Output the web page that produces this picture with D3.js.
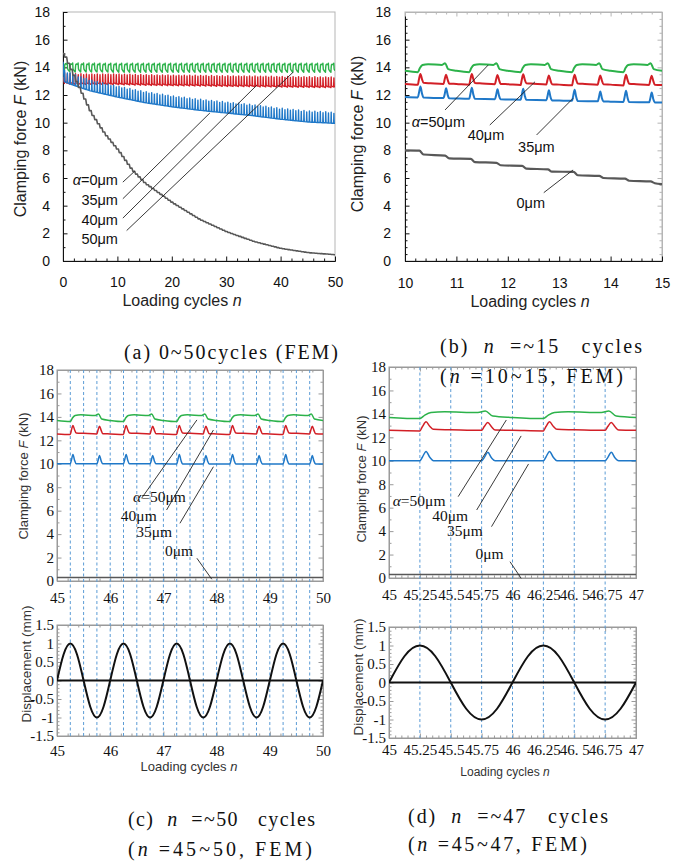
<!DOCTYPE html>
<html>
<head>
<meta charset="utf-8">
<script src="https://cdn.jsdelivr.net/npm/d3@7"></script>
<style>
body { margin: 0; background: #fff; }
svg { display: block; }
text { white-space: pre; }
</style>
</head>
<body>
<svg id="fig" width="683" height="862"></svg>
<script>
// ---- one loading cycle: phase in cycle, offset from baseline (kN)
var phaseGreen = [0, 0.25, 0.29, 0.34, 0.45, 0.72, 0.78, 0.84, 1];
var offGreen   = [0, -0.1, 0.2, 0.42, 0.48, 0.42, 0.55, 0.12, 0];
var phaseRed = [0, 0.25, 0.27, 0.3, 0.33, 0.36, 0.5, 0.75, 0.77, 0.8, 0.83, 0.86, 1];
var offRed   = [0, -0.05, 0.3, 0.72, 0.35, 0.08, 0.05, 0, 0.3, 0.66, 0.3, 0.02, 0];
var phaseBlue = [0, 0.25, 0.27, 0.3, 0.33, 0.36, 0.75, 0.77, 0.8, 0.83, 0.86, 1];
var offBlue   = [0, 0, 0.3, 0.8, 0.3, 0, 0, 0.25, 0.72, 0.25, 0, 0];
var grayStepPhase = [0.3, 0.8];
// displacement over one cycle (mm)
var phaseDisp = [0, 0.125, 0.25, 0.375, 0.5, 0.625, 0.75, 0.875, 1];
var dispVal   = [0, 0.71, 1, 0.71, 0, -0.71, -1, -0.71, 0];

// ---- (a) 0~50 cycles, baselines
var baseN_A    = [0, 1, 2, 5, 10, 15, 20, 25, 30, 35, 40, 45, 50];
var blueBaseA  = [13.0, 12.85, 12.7, 12.3, 11.85, 11.45, 11.15, 10.9, 10.7, 10.5, 10.25, 10.05, 9.95];
var redBaseA   = [12.9, 12.85, 12.82, 12.8, 12.8, 12.75, 12.72, 12.7, 12.67, 12.65, 12.62, 12.6, 12.58];
var greenBaseA = [13.8, 13.78, 13.77, 13.76, 13.75, 13.75, 13.75, 13.75, 13.75, 13.75, 13.75, 13.75, 13.75];
var startA     = { blue: 14.4, red: 13.3, green: 13.8 };
var grayN_A = [0, 2.5, 5, 7.5, 10, 12.5, 15, 20, 25, 30, 35, 40, 45, 50];
var grayA   = [15.0, 12.8, 10.7, 9.2, 8.0, 6.6, 5.6, 4.2, 3.0, 2.1, 1.4, 0.9, 0.6, 0.45];

// ---- (b) 10~15 cycles
var baseN_B    = [10, 11, 12, 13, 14, 15];
var blueBaseB  = [11.85, 11.75, 11.68, 11.6, 11.52, 11.45];
var redBaseB   = [12.8, 12.8, 12.78, 12.75, 12.75, 12.72];
var greenBaseB = [13.75, 13.75, 13.75, 13.75, 13.75, 13.75];
var grayN_B = [10, 10.28, 10.36, 10.78, 10.86, 11.28, 11.36, 11.78, 11.86, 12.28, 12.36, 12.78, 12.86,
               13.28, 13.36, 13.78, 13.86, 14.28, 14.36, 14.78, 14.86, 15];
var grayB   = [8.0, 7.98, 7.7, 7.62, 7.42, 7.38, 7.15, 7.1, 6.92, 6.88, 6.68, 6.62, 6.46,
               6.44, 6.2, 6.15, 6.0, 5.95, 5.8, 5.75, 5.62, 5.55];

// ---- (c) 45~50 cycles
var baseN_C    = [45, 50];
var blueBaseC  = [10.0, 9.98];
var redBaseC   = [12.55, 12.55];
var greenBaseC = [13.7, 13.7];
var grayC      = [0.3, 0.3];
var dashC = [45.25, 45.5, 45.75, 46, 46.25, 46.5, 46.75, 47, 47.25, 47.5, 47.75, 48, 48.25, 48.5, 48.75, 49, 49.25, 49.5, 49.75];
var ticksC = [45, 46, 47, 48, 49, 50];

// ---- (d) 45~47 cycles
var baseN_D    = [45, 47];
var blueBaseD  = [10.0, 10.0];
var redBaseD   = [12.6, 12.6];
var greenBaseD = [13.7, 13.7];
var grayD      = [0.3, 0.3];
var dashD = [45.25, 45.5, 45.75, 46, 46.25, 46.5, 46.75];
var ticksD = [45, 45.25, 45.5, 45.75, 46, 46.25, 46.5, 46.75, 47];
var tickLabelsD = ["45", "45.25", "45.5", "45.75", "46", "46.25", "46. 5", "46.75", "47"];

var ticksA = [0, 10, 20, 30, 40, 50];
var ticksB = [10, 11, 12, 13, 14, 15];
var forceTicks = [0, 2, 4, 6, 8, 10, 12, 14, 16, 18];
var dispTicks = [-1.5, -1, -0.5, 0, 0.5, 1, 1.5];
var dispLabels = ["-1.5", "-1", "-0.5", "0", "0.5", "1", "1.5"];

var GREEN = "#2cb24a", RED = "#d21f26", BLUE = "#1f78c8", GRAY = "#585858";
var SANS = "Arial, 'Liberation Sans', sans-serif";
var SERIF = "'Times New Roman', 'Liberation Serif', serif";

var svg = d3.select("#fig");

function panel(left, right, bottom, top, xdom, ydom) {
  return {
    x: d3.scaleLinear().domain(xdom).range([left, right]),
    y: d3.scaleLinear().domain(ydom).range([bottom, top]),
    l: left, r: right, b: bottom, t: top
  };
}

var pA  = panel(63, 335, 261, 12, [0, 50], [0, 18]);
var pB  = panel(405, 662, 261, 12, [10, 15], [0, 18]);
var pC  = panel(57, 323, 581, 370, [45, 50], [0, 18]);
var pC2 = panel(57, 323, 736, 625, [45, 50], [-1.5, 1.5]);
var pD  = panel(389, 636, 578, 367, [45, 47], [0, 18]);
var pD2 = panel(389, 636, 738, 627, [45, 47], [-1.5, 1.5]);

function baseScale(ns, vals) { return d3.scaleLinear().domain(ns).range(vals); }

function cycleSeries(n0, n1, phase, off, base) {
  var pts = [];
  for (var c = n0; c < n1; c++) {
    for (var i = 0; i < phase.length; i++) {
      if (c > n0 && i == 0) continue;
      var n = c + phase[i];
      pts.push([n, base(n) + off[i]]);
    }
  }
  return pts;
}

var clipId = 0;
function drawLine(p, pts, color, w, curve) {
  var id = "clip" + (clipId++);
  svg.append("clipPath").attr("id", id).append("rect")
    .attr("x", p.l).attr("y", p.t).attr("width", p.r - p.l).attr("height", p.b - p.t);
  svg.append("path").datum(pts)
    .attr("clip-path", "url(#" + id + ")")
    .attr("fill", "none").attr("stroke", color).attr("stroke-width", w)
    .attr("stroke-linejoin", "round")
    .attr("d", d3.line().x(function(d) { return p.x(d[0]); }).y(function(d) { return p.y(d[1]); })
      .curve(curve || d3.curveLinear));
}

// axes with inward ticks
function axes(p, c) {
  svg.append("rect").attr("x", p.l).attr("y", p.t).attr("width", p.r - p.l).attr("height", p.b - p.t)
    .attr("fill", "none").attr("stroke", c.frame).attr("stroke-width", 1);

  function put(axis, tx, ty, col, font) {
    var g = svg.append("g").attr("transform", "translate(" + tx + "," + ty + ")").call(axis);
    g.selectAll("path,line").attr("stroke", col);
    g.selectAll("text").attr("font-family", font).attr("font-size", c.fs).attr("fill", "#111");
    return g;
  }
  if (c.yMinor) {
    put(d3.axisLeft(p.y).tickValues(c.yMinor).tickSize(-2.5).tickSizeOuter(0).tickFormat(""), p.l, 0, c.tick);
    if (c.all) put(d3.axisRight(p.y).tickValues(c.yMinor).tickSize(-2.5).tickSizeOuter(0).tickFormat(""), p.r, 0, c.frame);
  }
  if (c.xMinor) {
    put(d3.axisBottom(p.x).tickValues(c.xMinor).tickSize(-2.5).tickSizeOuter(0).tickFormat(""), 0, p.b, c.tick);
    if (c.all) put(d3.axisTop(p.x).tickValues(c.xMinor).tickSize(-2.5).tickSizeOuter(0).tickFormat(""), 0, p.t, c.frame);
  }
  var yl = d3.axisLeft(p.y).tickValues(c.yMajor).tickSize(-4.5).tickSizeOuter(0).tickPadding(c.yPad);
  yl.tickFormat(function(d, i) { return c.yFmt ? c.yFmt[i] : String(d); });
  put(yl, p.l, 0, c.spine, c.font);
  if (c.all) put(d3.axisRight(p.y).tickValues(c.yMajor).tickSize(-4.5).tickSizeOuter(0).tickFormat(""), p.r, 0, c.frame);
  var xb = d3.axisBottom(p.x).tickValues(c.xMajor).tickSize(-4.5).tickSizeOuter(0).tickPadding(c.xPad);
  xb.tickFormat(function(d, i) { return c.xFmt ? c.xFmt[i] : String(d); });
  put(xb, 0, p.b, c.spine, c.font);
  if (c.all) put(d3.axisTop(p.x).tickValues(c.xMajor).tickSize(-4.5).tickSizeOuter(0).tickFormat(""), 0, p.t, c.frame);
}

function odd(a, b, s, skip) {
  return d3.range(a, b + 1e-9, s).filter(function(v) { return skip.every(function(k) { return Math.abs(v - k) > 1e-6; }); });
}

function title(x, y, parts, font, fs, rot, fill) {
  var t = svg.append("text").attr("x", 0).attr("y", 0)
    .attr("transform", "translate(" + x + "," + y + ")" + (rot ? " rotate(-90)" : ""))
    .attr("text-anchor", "middle").attr("dy", "0.35em")
    .attr("font-family", font).attr("font-size", fs).attr("fill", fill || "#111");
  parts.forEach(function(q) { t.append("tspan").attr("font-style", q[1] ? "italic" : null).text(q[0]); });
  return t;
}

function caption(x, y, parts, len) {
  var t = svg.append("text").attr("x", x).attr("y", y)
    .attr("font-family", SERIF).attr("font-size", 20).attr("fill", "#111");
  parts.forEach(function(q) { t.append("tspan").attr("font-style", q[1] ? "italic" : null).text(q[0]); });
  if (len) t.attr("textLength", len).attr("lengthAdjust", "spacing");
}

// annotation: label + leader line, all in data coords
function note(p, lab, anchor, lead, font, fs) {
  svg.append("line")
    .attr("x1", p.x(lead[0])).attr("y1", p.y(lead[1])).attr("x2", p.x(lead[2])).attr("y2", p.y(lead[3]))
    .attr("stroke", "#222").attr("stroke-width", 0.9);
  var t = svg.append("text").attr("x", p.x(lab[0])).attr("y", p.y(lab[1])).attr("dy", "0.35em")
    .attr("text-anchor", anchor).attr("font-family", font).attr("font-size", fs).attr("fill", "#111");
  lab[2].forEach(function(q) { t.append("tspan").attr("font-style", q[1] ? "italic" : null).text(q[0]); });
}

// ================= (a) =================
axes(pA, {
  frame: "#b5b5b5", spine: "#111", tick: "#111", font: SANS, fs: 14, yPad: 13, xPad: 16,
  yMajor: forceTicks, yMinor: odd(1, 17, 2, []),
  xMajor: ticksA, xMinor: odd(2, 48, 2, ticksA)
});
(function() {
  var gb = baseScale(baseN_A, greenBaseA), rb = baseScale(baseN_A, redBaseA), bb = baseScale(baseN_A, blueBaseA);
  var g = cycleSeries(0, 50, phaseGreen, offGreen, gb); g[0] = [0, startA.green];
  var r = cycleSeries(0, 50, phaseRed, offRed, rb); r[0] = [0, startA.red];
  var b = cycleSeries(0, 50, phaseBlue, offBlue, bb); b[0] = [0, startA.blue];
  // 0um: small sloped stairs at each half cycle
  var gs = baseScale(grayN_A, grayA);
  var prev = gs(0), k = [[0, prev]];
  for (var c = 0; c < 50; c++) grayStepPhase.forEach(function(ph) {
    var n = c + ph, v = gs(n);
    k.push([n - 0.12, prev]); k.push([n + 0.04, v]); prev = v;
  });
  k.push([50, gs(50)]);
  drawLine(pA, g, GREEN, 1.4);
  drawLine(pA, r, RED, 1.4);
  drawLine(pA, b, BLUE, 1.4);
  drawLine(pA, k, GRAY, 1.6);
})();
title(20.5, 139, [["Clamping force "], ["F", true], [" (kN)"]], SANS, 16, true, "#222");
title(182, 300, [["Loading cycles "], ["n", true]], SANS, 16, false, "#222");
note(pA, [10.1, 5.85, [["α", true], ["=0μm"]]], "end", [11.0, 5.7, 13.2, 6.5], SANS, 14.5);
note(pA, [10.1, 4.4, [["35μm"]]], "end", [11.0, 4.5, 27.0, 10.7], SANS, 14.5);
note(pA, [10.1, 3.0, [["40μm"]]], "end", [11.0, 3.1, 35.6, 12.7], SANS, 14.5);
note(pA, [10.1, 1.6, [["50μm"]]], "end", [11.7, 2.2, 42.3, 13.65], SANS, 14.5);

// ================= (b) =================
axes(pB, {
  frame: "#b5b5b5", spine: "#111", tick: "#111", font: SANS, fs: 14, yPad: 14, xPad: 17, all: true,
  yMajor: forceTicks, yMinor: odd(0.5, 17.5, 0.5, forceTicks),
  xMajor: ticksB, xMinor: odd(10.2, 14.8, 0.2, ticksB)
});
(function() {
  var gb = baseScale(baseN_B, greenBaseB), rb = baseScale(baseN_B, redBaseB), bb = baseScale(baseN_B, blueBaseB);
  drawLine(pB, cycleSeries(10, 15, phaseGreen, offGreen, gb), GREEN, 2, d3.curveMonotoneX);
  drawLine(pB, cycleSeries(10, 15, phaseRed, offRed, rb), RED, 2, d3.curveMonotoneX);
  drawLine(pB, cycleSeries(10, 15, phaseBlue, offBlue, bb), BLUE, 2, d3.curveMonotoneX);
  drawLine(pB, grayN_B.map(function(n, i) { return [n, grayB[i]]; }), GRAY, 2.2, d3.curveMonotoneX);
})();
title(357.5, 134, [["Clamping force "], ["F", true], [" (kN)"]], SANS, 16, true, "#222");
title(530, 301, [["Loading cycles "], ["n", true]], SANS, 16, false, "#222");
note(pB, [10.13, 10.07, [["α", true], ["=50μm"]]], "start", [10.78, 10.92, 11.62, 14.17], SANS, 14.5);
note(pB, [11.22, 9.11, [["40μm"]]], "start", [11.65, 9.83, 12.53, 12.96], SANS, 14.5);
note(pB, [12.2, 8.26, [["35μm"]]], "start", [12.56, 9.11, 13.27, 11.76], SANS, 14.5);
note(pB, [12.17, 4.17, [["0μm"]]], "start", [12.7, 4.94, 13.27, 6.58], SANS, 14.5);

// ================= (c) =================
function dashes(top, bot, list) {
  svg.append("g").selectAll("line").data(list).enter().append("line")
    .attr("x1", function(d) { return top.x(d); }).attr("x2", function(d) { return top.x(d); })
    .attr("y1", top.y(18)).attr("y2", bot.y(-1.5))
    .attr("stroke", "#5b9bd5").attr("stroke-width", 1).attr("stroke-dasharray", "3,2.5");
}
var cfgLate = {
  frame: "#9a9a9a", spine: "#9a9a9a", tick: "#9a9a9a", font: SERIF, fs: 15, yPad: 3, all: true
};
axes(pC, Object.assign({}, cfgLate, {
  xPad: 11.7, yMajor: forceTicks, yMinor: odd(1, 17, 2, []),
  xMajor: ticksC, xMinor: odd(45.2, 49.8, 0.2, ticksC)
}));
axes(pC2, Object.assign({}, cfgLate, {
  xPad: 9.5, yMajor: dispTicks, yFmt: dispLabels, yMinor: odd(-1.4, 1.4, 0.1, dispTicks),
  xMajor: ticksC, xMinor: odd(45.2, 49.8, 0.2, ticksC)
}));
dashes(pC, pC2, dashC);
(function() {
  var gb = baseScale(baseN_C, greenBaseC), rb = baseScale(baseN_C, redBaseC), bb = baseScale(baseN_C, blueBaseC);
  drawLine(pC, cycleSeries(45, 50, phaseGreen, offGreen, gb), GREEN, 1.5, d3.curveMonotoneX);
  drawLine(pC, cycleSeries(45, 50, phaseRed, offRed, rb), RED, 1.5, d3.curveMonotoneX);
  drawLine(pC, cycleSeries(45, 50, phaseBlue, offBlue, bb), BLUE, 1.5, d3.curveMonotoneX);
  drawLine(pC, baseN_C.map(function(n, i) { return [n, grayC[i]]; }), GRAY, 1.6);
  drawLine(pC2, baseN_C.map(function(n) { return [n, 0]; }), "#111", 1.8);
  drawLine(pC2, cycleSeries(45, 50, phaseDisp, dispVal, function() { return 0; }), "#111", 2, d3.curveNatural);
})();
title(23.5, 476, [["Clamping force "], ["F", true], [" (kN)"]], SANS, 13, true, "#333");
title(26, 664, [["Displacement (mm)"]], SANS, 13.5, true, "#333");
title(189, 766, [["Loading cycles "], ["n", true]], SANS, 13, false, "#333");
note(pC, [46.43, 7.2, [["α", true], ["=50μm"]]], "start", [46.59, 7.06, 47.63, 13.74], SERIF, 15.5);
note(pC, [46.2, 5.62, [["40μm"]]], "start", [47.06, 6.06, 47.94, 12.88], SERIF, 15.5);
note(pC, [46.49, 4.2, [["35μm"]]], "start", [47.31, 4.92, 47.94, 9.75], SERIF, 15.5);
note(pC, [47.03, 2.59, [["0μm"]]], "start", [47.63, 1.94, 47.91, 0.15], SERIF, 15.5);

// ================= (d) =================
axes(pD, Object.assign({}, cfgLate, {
  xPad: 11.7, yMajor: forceTicks, yMinor: odd(1, 17, 2, []),
  xMajor: ticksD, xFmt: tickLabelsD, xMinor: odd(45.05, 46.95, 0.05, ticksD)
}));
axes(pD2, Object.assign({}, cfgLate, {
  xPad: 6.7, yMajor: dispTicks, yFmt: dispLabels, yMinor: odd(-1.4, 1.4, 0.1, dispTicks),
  xMajor: ticksD, xFmt: tickLabelsD, xMinor: odd(45.05, 46.95, 0.05, ticksD)
}));
dashes(pD, pD2, dashD);
(function() {
  var gb = baseScale(baseN_D, greenBaseD), rb = baseScale(baseN_D, redBaseD), bb = baseScale(baseN_D, blueBaseD);
  drawLine(pD, cycleSeries(45, 47, phaseGreen, offGreen, gb), GREEN, 1.5, d3.curveMonotoneX);
  drawLine(pD, cycleSeries(45, 47, phaseRed, offRed, rb), RED, 1.5, d3.curveMonotoneX);
  drawLine(pD, cycleSeries(45, 47, phaseBlue, offBlue, bb), BLUE, 1.5, d3.curveMonotoneX);
  drawLine(pD, baseN_D.map(function(n, i) { return [n, grayD[i]]; }), GRAY, 1.6);
  drawLine(pD2, baseN_D.map(function(n) { return [n, 0]; }), "#111", 1.8);
  drawLine(pD2, cycleSeries(45, 47, phaseDisp, dispVal, function() { return 0; }), "#111", 2, d3.curveNatural);
})();
title(361.5, 479, [["Clamping force "], ["F", true], [" (kN)"]], SANS, 13, true, "#333");
title(358, 677, [["Displacement (mm)"]], SANS, 13.5, true, "#333");
title(505, 772, [["Loading cycles "], ["n", true]], SANS, 12, false, "#333");
note(pD, [45.03, 6.6, [["α", true], ["=50μm"]]], "start", [45.56, 6.94, 45.95, 13.48], SERIF, 15.5);
note(pD, [45.35, 5.35, [["40μm"]]], "start", [45.71, 5.8, 46.07, 12.12], SERIF, 15.5);
note(pD, [45.47, 4.05, [["35μm"]]], "start", [45.83, 4.38, 46.13, 9.73], SERIF, 15.5);
note(pD, [45.7, 2.1, [["0μm"]]], "start", [45.98, 1.39, 46.07, -0.03], SERIF, 15.5);

// ================= captions =================
caption(124, 359, [["(a) 0~50cycles (FEM)"]], 214);
caption(440, 353, [["(b)  "], ["n", true], ["  =~15   cycles"]], 202);
caption(440, 383, [["("], ["n", true], [" =10~15, FEM)"]], 183);
caption(128, 826, [["(c)  "], ["n", true], ["  =~50   cycles"]], 187);
caption(128, 856, [["("], ["n", true], [" =45~50, FEM)"]], 184);
caption(408, 823, [["(d)  "], ["n", true], ["  =~47   cycles"]], 200);
caption(408, 851, [["("], ["n", true], [" =45~47, FEM)"]], 179);
</script>
</body>
</html>
